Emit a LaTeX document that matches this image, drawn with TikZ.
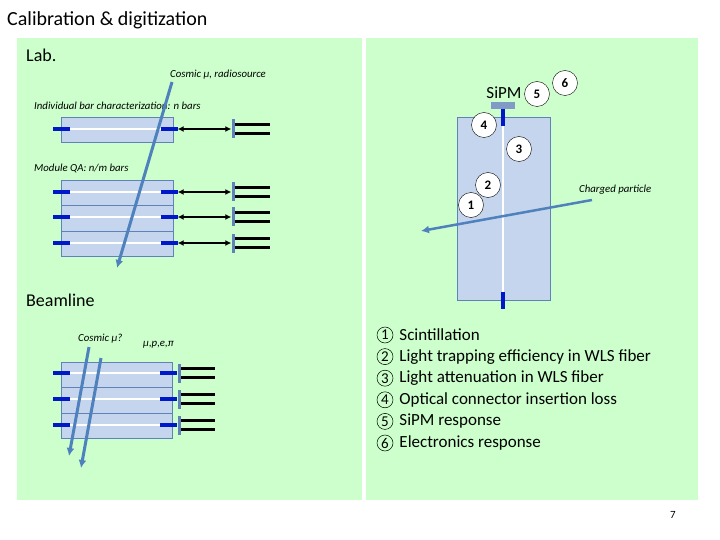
\documentclass[tikz,border=0pt]{standalone}
\usepackage{fontspec}
\setmainfont{Carlito}
\usetikzlibrary{arrows.meta}
\usetikzlibrary{positioning}

\definecolor{panelgreen}{HTML}{CCFFCC}
\definecolor{barblue}{HTML}{C5D5EE}
\definecolor{edgeblue}{HTML}{5F82B8}
\definecolor{connblue}{HTML}{0018C8}
\definecolor{rayblue}{HTML}{4F81BD}

\tikzset{
  panel/.style={fill=panelgreen, draw=none},
  bar/.style={fill=barblue, draw=edgeblue, line width=0.6pt},
  conn/.style={fill=connblue, draw=none, minimum width=17pt, minimum height=4.5pt, inner sep=0pt},
  sipm/.style={fill=edgeblue, draw=none, minimum width=3pt, minimum height=19pt, inner sep=0pt},
  ray/.style={draw=rayblue, line width=3pt, -{Latex[length=8pt,width=8pt]}},
  link/.style={line width=1.6pt, {Latex[length=6pt,width=6pt]}-{Latex[length=6pt,width=6pt]}},
  cable/.style={line width=2.4pt},
  note/.style={font=\fontsize{10.8}{12}\selectfont\itshape, inner sep=1pt},
  heading/.style={anchor=west, font=\fontsize{18}{20}\selectfont, inner sep=0pt},
  stage/.style={circle, draw, fill=white, minimum size=25pt, inner sep=0pt, font=\fontsize{13}{14}\selectfont\bfseries},
  listitem/.style={font=\fontsize{17}{19}\selectfont, anchor=west, inner sep=0pt},
  num/.style={circle, draw, line width=0.5pt, minimum size=16pt, inner sep=0pt, font=\fontsize{15}{16}\selectfont}
}

\begin{document}
\begin{tikzpicture}[x=1pt, y=-1pt]
  \useasboundingbox (0,0) rectangle (720,540);
  \node[anchor=west, font=\fontsize{20}{22}\selectfont, inner sep=0pt] (title) at (7,20) {Calibration \& digitization};
  \fill[panel] (17,38) rectangle (362,500);
  \fill[panel] (366,38) rectangle (698,500);

  % Lab.
  \node[heading] (lab) at (26,55) {Lab.};
  \node[note, anchor=west] (src) at (169,75) {Cosmic μ, radiosource};
  \node[note, anchor=west] (indiv) at (33,106) {Individual bar characterization: n bars};
  \node[note, anchor=west] (modqa) at (33,168) {Module QA: n/m bars};

  \draw[bar] (61,117) rectangle (173,142);
  \draw[bar] (61,180) rectangle (173,256);
  \draw[edgeblue, line width=0.6pt] (61,205.5) -- (173,205.5) (61,231) -- (173,231);
  \foreach \y [count=\i] in {129,192,217,243} {
    \draw[white, line width=2.5pt] (61,\y) -- (173,\y);
    \node[conn] (lc\i) at (61,\y) {};
    \node[conn] (rc\i) at (169,\y) {};
    \node[sipm] (sp\i) at (233,\y) {};
    \draw[link] (rc\i) -- (sp\i);
    \draw[cable] (sp\i.east) ++(0,-4.5) coordinate (ca\i) -- ++(35,0);
    \draw[cable] (sp\i.east) ++(0,4.5) coordinate (cb\i) -- ++(35,0);
  }
  \coordinate (mu0) at (172,82);
  \coordinate (mu1) at (117,268);
  \draw[ray] (mu0) -- (mu1);

  % Beamline
  \node[heading] (beam) at (26,300) {Beamline};
  \node[note, anchor=west] (cosq) at (77,339) {Cosmic μ?};
  \node[note, anchor=west] (parts) at (142,345) {μ,p,e,π};
  \draw[bar] (61,362) rectangle (172,438);
  \draw[edgeblue, line width=0.6pt] (61,387) -- (172,387) (61,413) -- (172,413);
  \foreach \y [count=\i] in {373,399,425} {
    \draw[white, line width=2.5pt] (61,\y) -- (172,\y);
    \node[conn] (blc\i) at (61,\y) {};
    \node[conn] (brc\i) at (168,\y) {};
    \node[sipm, right=1pt of brc\i] (bsp\i) {};
    \draw[cable] (bsp\i.east) ++(0,-4.5) -- ++(34,0);
    \draw[cable] (bsp\i.east) ++(0,4.5) -- ++(34,0);
  }
  \coordinate (bm0) at (89,347);
  \coordinate (bm1) at (69,456);
  \coordinate (bn0) at (101,358);
  \coordinate (bn1) at (81,468);
  \draw[ray] (bm0) -- (bm1);
  \draw[ray] (bn0) -- (bn1);

  % single bar readout
  \draw[bar] (457,117) rectangle (550,300);
  \draw[white, line width=2.5pt] (503,117) -- (503,300);
  \node[fill=connblue, minimum width=4.5pt, minimum height=17pt, inner sep=0pt] (tcon) at (503,118) {};
  \node[fill=connblue, minimum width=4.5pt, minimum height=17pt, inner sep=0pt] (bcon) at (503,300) {};
  \node[fill=edgeblue!80, minimum width=24pt, minimum height=7pt, inner sep=0pt, above=0pt of tcon] (sipmr) {};
  \node[font=\fontsize{17}{19}\selectfont, inner sep=0pt] (sipmlab) at (504,93) {SiPM};
  \coordinate (cp0) at (592,200);
  \coordinate (cp1) at (421,231);
  \draw[ray, line width=2.5pt] (cp0) -- (cp1);
  \node[note, anchor=west] (charged) at (578,190) {Charged particle};
  \node[stage] (s1) at (471,205) {1};
  \node[stage] (s2) at (488,185) {2};
  \node[stage] (s3) at (519,149) {3};
  \node[stage] (s4) at (484,125) {4};
  \node[stage] (s5) at (537,94) {5};
  \node[stage] (s6) at (565,83) {6};

  % list
  \foreach \t [count=\i] in {Scintillation, Light trapping efficiency in WLS fiber, Light attenuation in WLS fiber, Optical connector insertion loss, SiPM response, Electronics response} {
    \node[num] (n\i) at (385,{335+21.6*(\i-1)}) {\i};
    \node[listitem, right=6pt of n\i] (t\i) {\t};
  }

  \node[font=\fontsize{11}{12}\selectfont] (page) at (673,515) {7};
\end{tikzpicture}
\end{document}
